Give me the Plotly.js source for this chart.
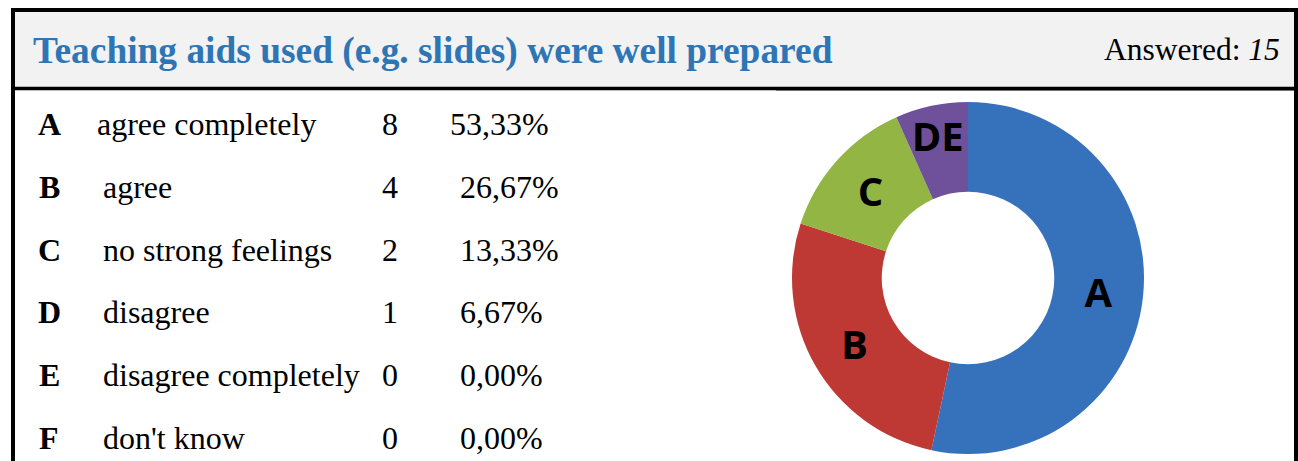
<!DOCTYPE html>
<html>
<head>
<meta charset="utf-8">
<script src="https://cdn.plot.ly/plotly-3.0.1.min.js"></script>
<style>
  html, body { margin: 0; padding: 0; background: #ffffff; }
  #chart { width: 1298px; height: 461px; }
</style>
</head>
<body>
<div id="chart"></div>
<script>
// ---- data ----
const titleText = "Teaching aids used (e.g. slides) were well prepared";
const answered = 15;
const letters = ["A", "B", "C", "D", "E", "F"];
const answers = ["agree completely", "agree", "no strong feelings", "disagree", "disagree completely", "don't know"];
const counts = [8, 4, 2, 1, 0, 0];
const percents = ["53,33%", "26,67%", "13,33%", "6,67%", "0,00%", "0,00%"];
const sliceLabels = ["A", "B", "C", "DE", "", ""];
const sliceColors = ["#3672bb", "#bf3934", "#92b544", "#6f519b", "#6f519b", "#aaaaaa"];

// ---- layout helpers ----
const W = 1298, H = 461;
const px = x => x / W;
const py = y => 1 - y / H;

const serif = "Liberation Serif, Times New Roman, serif";
const annotations = [];

annotations.push({
  xref: "paper", yref: "paper", x: px(31), y: py(51),
  xanchor: "left", yanchor: "middle", showarrow: false,
  text: "<b>" + titleText + "</b>",
  font: { family: serif, size: 37.4, color: "#2e75b6" }
});
annotations.push({
  xref: "paper", yref: "paper", x: px(1282), y: py(50),
  xanchor: "right", yanchor: "middle", showarrow: false,
  text: "Answered: <i>" + answered + "</i>",
  font: { family: serif, size: 31.5, color: "#000000" }
});

const rowTop = 124, rowStep = 62.8;
letters.forEach((L, i) => {
  const y = py(rowTop + i * rowStep);
  const f = { family: serif, size: 32, color: "#000000" };
  annotations.push({ xref: "paper", yref: "paper", x: px(49), y, xanchor: "center", yanchor: "middle",
    showarrow: false, text: "<b>" + L + "</b>", font: f });
  annotations.push({ xref: "paper", yref: "paper", x: px(i === 0 ? 95 : 101), y, xanchor: "left", yanchor: "middle",
    showarrow: false, text: answers[i], font: f });
  annotations.push({ xref: "paper", yref: "paper", x: px(390), y, xanchor: "center", yanchor: "middle",
    showarrow: false, text: String(counts[i]), font: f });
  annotations.push({ xref: "paper", yref: "paper", x: px(i === 0 ? 448 : 458), y, xanchor: "left", yanchor: "middle",
    showarrow: false, text: percents[i], font: f });
});

const shapes = [
  // header band
  { type: "rect", xref: "paper", yref: "paper", x0: px(13), x1: px(1296), y0: py(88), y1: py(10),
    fillcolor: "#f2f2f2", line: { width: 0 }, layer: "below" },
  // faint line under header on the right
  { type: "line", xref: "paper", yref: "paper", x0: px(776), x1: px(1296), y0: py(90.5), y1: py(90.5),
    line: { color: "#9a9a9a", width: 1 } },
  // top border
  { type: "line", xref: "paper", yref: "paper", x0: px(11), x1: px(1298), y0: py(10), y1: py(10),
    line: { color: "#000000", width: 4 } },
  // header bottom border
  { type: "line", xref: "paper", yref: "paper", x0: px(11), x1: px(1298), y0: py(88.5), y1: py(88.5),
    line: { color: "#000000", width: 3.5 } },
  // left border
  { type: "line", xref: "paper", yref: "paper", x0: px(13), x1: px(13), y0: py(8), y1: py(461),
    line: { color: "#000000", width: 4 } },
  // right border
  { type: "line", xref: "paper", yref: "paper", x0: px(1296), x1: px(1296), y0: py(8), y1: py(461),
    line: { color: "#000000", width: 4 } }
];

const trace = {
  type: "pie",
  labels: letters,
  values: counts,
  text: sliceLabels,
  textinfo: "text",
  textposition: "inside",
  insidetextorientation: "horizontal",
  hole: 0.49,
  sort: false,
  direction: "clockwise",
  rotation: 0,
  marker: { colors: sliceColors, line: { width: 0 } },
  textfont: { family: "Open Sans, DejaVu Sans, sans-serif", size: 40, color: "#000000", weight: 700 },
  insidetextfont: { family: "Open Sans, DejaVu Sans, sans-serif", size: 40, color: "#000000", weight: 700 },
  domain: { x: [px(792), px(1144)], y: [1 - 454 / H, 1 - 102 / H] },
  showlegend: false,
  hoverinfo: "label+value+percent"
};

const layout = {
  width: W, height: H,
  margin: { l: 0, r: 0, t: 0, b: 0 },
  paper_bgcolor: "#ffffff",
  plot_bgcolor: "#ffffff",
  showlegend: false,
  uniformtext: { mode: "show", minsize: 40 },
  annotations, shapes
};

Plotly.newPlot("chart", [trace], layout, { displayModeBar: false, staticPlot: true });
</script>
</body>
</html>
